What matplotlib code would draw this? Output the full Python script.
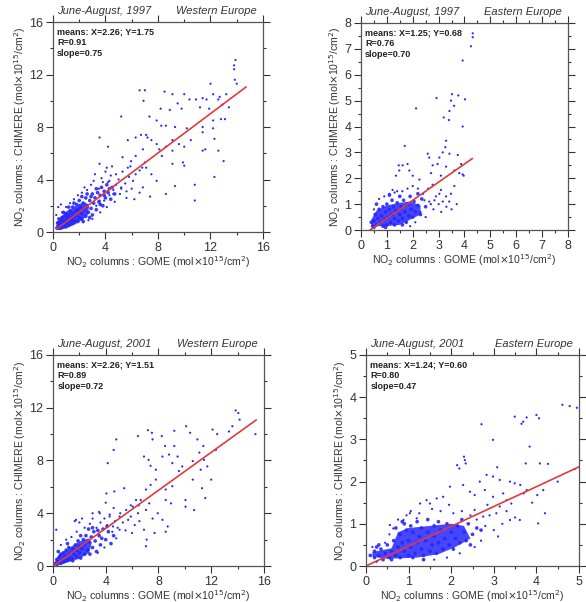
import numpy as np
import matplotlib
matplotlib.use("Agg")
import matplotlib.pyplot as plt
from matplotlib.ticker import MultipleLocator

plt.rcParams['font.family'] = ['Liberation Sans', 'DejaVu Sans']

# ---- data ----------------------------------------------------------------
periods = ["June-August, 1997", "June-August, 1997", "June-August, 2001", "June-August, 2001"]
regions = ["Western Europe", "Eastern Europe", "Western Europe", "Eastern Europe"]
means_x = [2.26, 1.25, 2.26, 1.24]
means_y = [1.75, 0.68, 1.51, 0.60]
r_values = [0.91, 0.76, 0.89, 0.80]
slopes = [0.75, 0.70, 0.72, 0.47]
intercepts = [0.02, -0.25, -0.02, 0.0]
fit_ranges = [(0.3, 14.7), (0.35, 4.3), (0.1, 15.4), (0.0, 5.0)]
axis_max = [16, 8, 16, 5]
major_step = [4, 1, 4, 1]
minor_step = [2, 0.5, 2, 0.5]

# outline of the saturated (solid blue) part of each cloud
we97_outline = [(0.25, 0.15), (0.3, 0.7), (0.6, 1.15), (1.0, 1.55), (1.5, 1.85), (2.0, 2.15), (2.5, 2.25),
                (2.75, 1.95), (2.65, 1.3), (2.2, 0.9), (1.6, 0.55), (1.0, 0.3), (0.6, 0.15)]
ee97_outline = [(0.4, 0.15), (0.4, 0.4), (0.6, 0.75), (1.0, 0.95), (1.5, 1.05), (1.9, 1.1), (2.3, 0.95),
                (2.3, 0.6), (1.9, 0.4), (1.5, 0.2), (1.0, 0.15)]
we01_outline = [(0.15, 0.1), (0.2, 0.5), (0.5, 0.9), (1.2, 1.35), (2.0, 1.85), (2.7, 2.1), (2.95, 1.8),
                (2.75, 1.0), (2.0, 0.55), (1.2, 0.3), (0.5, 0.1)]
ee01_outline = [(0.15, 0.22), (0.15, 0.33), (0.6, 0.42), (0.75, 0.8), (1.0, 0.9), (1.5, 0.95), (2.0, 1.0),
                (2.3, 0.95), (2.45, 0.65), (2.1, 0.45), (1.7, 0.28), (1.2, 0.2), (0.5, 0.17)]

# dense core of each cloud
we97_core = [(0.3, 0.3), (0.4, 0.5), (0.5, 0.3), (0.5, 0.7), (0.6, 0.4), (0.6, 0.9), (0.7, 0.6), (0.7, 1.1),
             (0.8, 0.4), (0.8, 0.8), (0.9, 0.6), (0.9, 1.2), (1.0, 0.4), (1.0, 0.9), (1.0, 1.4), (1.1, 0.7),
             (1.1, 1.1), (1.2, 0.5), (1.2, 1.3), (1.3, 0.8), (1.3, 1.6), (1.4, 0.6), (1.4, 1.1), (1.5, 0.9),
             (1.5, 1.4), (1.5, 1.9), (1.6, 0.7), (1.6, 1.2), (1.7, 1.6), (1.7, 0.9), (1.8, 1.3), (1.8, 2.1),
             (1.9, 0.8), (1.9, 1.7), (2.0, 1.1), (2.0, 1.5), (2.0, 2.4), (2.1, 1.9), (2.2, 1.0), (2.2, 1.4),
             (2.3, 2.2), (2.4, 1.7), (2.5, 1.2), (2.5, 2.6), (2.6, 2.0), (2.7, 1.5), (2.8, 2.4), (2.9, 1.8),
             (3.0, 2.9), (3.0, 1.3), (3.1, 2.2), (3.2, 2.6), (3.3, 1.7), (3.4, 3.0), (3.5, 2.3), (3.6, 2.8),
             (3.7, 3.4), (3.8, 2.0), (3.9, 3.1), (4.0, 2.6), (4.1, 3.6), (4.2, 3.0), (4.4, 2.5), (4.5, 3.4),
             (0.45, 1.0), (0.35, 0.7), (1.2, 1.9), (0.8, 1.5), (2.3, 0.8), (2.8, 1.1), (2.6, 2.9),
             (2.9, 2.7), (3.3, 3.3), (3.6, 2.1), (3.9, 2.8), (4.3, 3.3), (4.7, 2.9), (2.2, 2.7), (1.6, 2.2)]
ee97_core = [(0.45, 0.15), (0.5, 0.35), (0.55, 0.6), (0.6, 0.2), (0.65, 0.45), (0.7, 0.8), (0.75, 0.3),
             (0.8, 0.55), (0.85, 0.15), (0.85, 0.9), (0.9, 0.4), (0.95, 0.7), (1.0, 0.2), (1.0, 1.0),
             (1.05, 0.5), (1.1, 0.8), (1.15, 0.3), (1.2, 0.6), (1.2, 1.15), (1.25, 0.9), (1.3, 0.2),
             (1.3, 0.45), (1.35, 0.75), (1.4, 1.05), (1.45, 0.35), (1.5, 0.6), (1.5, 1.3), (1.55, 0.9),
             (1.6, 0.45), (1.65, 1.15), (1.7, 0.7), (1.75, 0.3), (1.8, 1.0), (1.85, 0.55), (1.9, 1.3),
             (1.95, 0.8), (2.0, 0.5), (2.05, 1.1), (2.1, 0.7), (2.2, 0.95), (2.3, 0.6), (2.35, 1.2),
             (2.5, 0.9), (0.4, 0.3), (0.6, 1.0), (1.1, 1.35), (0.95, 0.1), (1.6, 0.2), (0.5, 0.1), (2.2, 1.4)]
we01_core = [(0.2, 0.2), (0.3, 0.5), (0.4, 0.3), (0.5, 0.7), (0.6, 0.2), (0.6, 0.9), (0.7, 0.5), (0.8, 1.0),
             (0.8, 0.3), (0.9, 0.7), (1.0, 0.4), (1.0, 1.2), (1.1, 0.8), (1.2, 0.5), (1.2, 1.4), (1.3, 1.0),
             (1.4, 0.6), (1.5, 1.3), (1.5, 0.4), (1.6, 0.9), (1.7, 1.6), (1.8, 0.7), (1.8, 1.2), (1.9, 1.9),
             (2.0, 1.0), (2.0, 1.5), (2.1, 0.6), (2.2, 1.3), (2.3, 2.0), (2.4, 0.9), (2.4, 1.6), (2.5, 2.3),
             (2.6, 1.2), (2.7, 1.8), (2.8, 0.9), (2.9, 2.2), (3.0, 1.4), (3.1, 2.6), (3.2, 1.9), (3.3, 1.1),
             (3.5, 2.3), (3.6, 1.6), (3.8, 2.8), (4.0, 2.0), (4.2, 2.6), (4.4, 1.7), (0.4, 1.1), (0.3, 0.1),
             (1.1, 1.7), (2.7, 2.8), (3.4, 2.7), (3.7, 2.1), (4.1, 3.0), (4.6, 2.3), (3.0, 2.9), (2.1, 2.3)]
ee01_core = [(0.1, 0.25), (0.2, 0.2), (0.2, 0.35), (0.3, 0.25), (0.35, 0.4), (0.4, 0.15), (0.45, 0.3),
             (0.5, 0.5), (0.55, 0.2), (0.6, 0.35), (0.65, 0.6), (0.7, 0.25), (0.75, 0.45), (0.8, 0.75),
             (0.8, 0.2), (0.85, 0.55), (0.9, 0.35), (0.95, 0.85), (1.0, 0.25), (1.0, 0.6), (1.05, 0.45),
             (1.1, 0.8), (1.15, 0.3), (1.2, 0.55), (1.25, 0.7), (1.3, 0.4), (1.3, 0.9), (1.35, 0.25),
             (1.4, 0.6), (1.45, 0.8), (1.5, 0.35), (1.55, 0.5), (1.6, 0.95), (1.6, 0.7), (1.65, 0.3),
             (1.7, 0.55), (1.75, 0.85), (1.8, 0.4), (1.85, 0.65), (1.9, 1.0), (1.95, 0.5), (2.0, 0.8),
             (2.05, 0.4), (2.1, 0.65), (2.15, 0.95), (2.2, 0.55), (2.3, 0.8), (2.35, 0.6), (2.4, 1.0),
             (2.5, 0.75), (0.7, 0.9), (0.9, 1.0), (1.2, 1.05), (0.6, 0.15), (1.1, 0.2), (2.6, 0.9),
             (0.3, 0.5), (1.45, 1.1), (0.85, 1.05), (1.05, 0.95), (1.7, 1.05), (2.25, 1.1), (2.45, 0.5),
             (1.35, 0.15), (0.25, 0.45), (2.7, 0.85)]

# sparser points around and beyond the core
we97_pts = [(13.9, 13.1), (13.8, 12.7), (13.8, 12.4), (13.85, 11.6), (14.0, 11.3), (12.0, 11.3), (6.6, 10.8),
            (7.0, 10.8), (6.9, 10.0), (8.5, 10.7), (9.1, 10.5), (10.0, 10.5), (10.9, 10.1), (10.4, 10.1),
            (11.4, 10.2), (12.2, 10.5), (12.7, 10.3), (13.2, 10.5), (8.2, 9.4), (8.9, 9.3), (9.5, 9.8),
            (9.8, 9.4), (11.2, 9.5), (11.7, 10.1), (11.9, 9.4), (12.6, 10.1), (12.9, 9.7), (13.4, 9.5),
            (5.2, 8.8), (7.35, 8.8), (7.9, 8.5), (8.6, 8.1), (8.25, 8.1), (9.3, 8.0), (10.2, 7.9), (11.4, 8.0),
            (12.2, 7.9), (12.8, 8.6), (13.1, 8.6), (12.2, 8.5), (11.4, 7.6), (12.3, 7.1), (3.55, 7.2),
            (4.2, 6.5), (5.7, 7.0), (6.3, 7.2), (6.7, 7.4), (7.1, 7.4), (7.2, 7.2), (7.5, 7.0), (6.85, 6.3),
            (7.9, 6.7), (8.1, 6.3), (8.6, 6.5), (9.1, 7.0), (9.6, 6.7), (10.0, 6.5), (10.5, 7.0), (9.1, 6.2),
            (8.3, 5.8), (9.9, 5.3), (10.0, 5.05), (9.1, 5.2), (7.0, 5.3), (12.6, 6.2), (13.0, 5.4), (11.6, 6.3),
            (10.8, 3.6), (9.3, 3.5), (8.6, 2.9), (10.8, 2.4), (12.3, 4.2), (11.4, 6.2), (5.3, 5.7), (5.95, 5.4),
            (6.3, 5.8), (5.7, 4.9), (6.6, 4.7), (7.1, 4.9), (7.5, 4.4), (7.9, 3.9), (6.1, 3.9), (6.85, 3.4),
            (5.6, 3.1), (4.8, 4.4), (4.3, 3.9), (5.2, 3.4), (4.1, 4.9), (3.55, 5.2), (4.6, 2.9), (3.55, 2.4),
            (6.2, 2.5), (7.4, 2.7), (0.25, 1.3), (0.4, 1.9), (0.6, 2.1), (2.6, 3.2), (2.9, 3.6), (3.1, 3.9),
            (3.3, 2.0), (3.5, 3.3), (3.7, 4.1), (3.9, 2.4), (4.0, 4.6), (4.2, 3.8), (4.4, 4.3), (4.6, 3.2),
            (4.8, 3.6), (5.0, 4.0), (5.1, 2.9), (5.3, 4.6), (5.5, 3.7), (5.8, 4.2), (4.7, 2.3), (4.1, 1.9),
            (3.6, 1.5), (3.0, 1.0), (2.7, 0.9), (5.6, 2.6), (6.0, 3.3), (6.3, 4.4), (6.6, 3.0), (6.8, 4.9),
            (5.9, 5.0), (4.5, 5.0), (3.2, 4.4), (2.4, 3.4), (2.2, 3.0), (1.9, 2.8), (1.6, 2.5), (1.3, 2.2),
            (1.0, 1.9), (0.7, 1.5), (3.8, 3.8), (4.3, 2.8), (5.2, 3.3)]
ee97_pts = [(4.32, 7.6), (4.32, 7.45), (4.25, 7.1), (3.93, 6.55), (2.92, 5.1), (3.52, 5.25), (3.76, 5.2),
            (4.02, 5.05), (2.13, 4.7), (3.48, 5.0), (3.42, 4.6), (3.6, 4.8), (3.2, 4.35), (3.4, 4.25),
            (3.93, 4.0), (1.69, 3.25), (3.29, 3.45), (3.26, 3.2), (3.16, 3.0), (3.42, 2.95), (3.74, 2.9),
            (2.58, 2.95), (2.64, 2.8), (3.03, 2.8), (2.96, 2.55), (2.77, 2.5), (3.87, 2.55), (3.97, 2.1),
            (3.93, 2.15), (3.61, 2.3), (3.29, 2.45), (2.71, 2.2), (3.09, 2.1), (1.46, 2.5), (1.61, 2.5),
            (1.8, 2.55), (1.48, 2.3), (1.35, 2.1), (1.87, 2.3), (2.0, 2.1), (2.26, 1.95), (1.22, 1.55),
            (2.77, 1.75), (3.09, 1.55), (3.29, 1.3), (3.48, 1.4), (3.61, 1.7), (3.03, 1.4), (2.84, 1.15),
            (3.16, 1.1), (3.41, 1.1), (3.8, 2.2), (2.45, 1.15), (2.64, 1.1), (2.3, 0.7), (2.4, 1.4),
            (2.5, 0.5), (2.6, 1.6), (2.7, 1.0), (2.8, 0.8), (2.9, 1.3), (3.0, 1.0), (3.1, 0.7), (2.2, 1.6),
            (2.0, 1.7), (1.8, 1.6), (1.6, 1.5), (1.4, 1.5), (1.3, 1.45), (1.1, 1.4), (0.9, 1.3), (0.7, 1.2),
            (0.5, 0.8), (3.3, 0.9), (3.5, 0.8), (3.7, 1.0), (2.1, 0.3), (1.9, 0.15)]
we01_pts = [(13.85, 11.8), (14.05, 11.6), (14.15, 11.1), (7.2, 10.3), (7.5, 10.1), (7.55, 9.6), (6.45, 9.85),
            (4.8, 9.6), (4.6, 8.8), (4.15, 7.8), (8.25, 9.85), (8.5, 9.1), (9.2, 10.25), (9.2, 9.1),
            (10.1, 10.6), (10.4, 10.1), (10.95, 9.6), (11.4, 9.1), (12.1, 10.35), (12.45, 10.0), (13.35, 10.2),
            (13.6, 10.6), (15.35, 10.0), (6.9, 8.3), (7.25, 8.05), (7.4, 7.6), (7.8, 7.3), (8.3, 8.3),
            (8.8, 8.45), (9.05, 7.8), (9.45, 8.3), (9.8, 7.55), (10.6, 7.95), (11.1, 8.6), (11.45, 8.05),
            (11.7, 7.55), (12.35, 8.8), (11.2, 7.3), (12.0, 6.55), (11.3, 5.9), (11.55, 5.15), (10.6, 6.55),
            (9.55, 7.2), (9.05, 6.05), (7.8, 6.55), (7.4, 6.15), (7.05, 5.8), (6.65, 5.0), (7.3, 4.75),
            (8.55, 5.8), (8.55, 5.0), (8.95, 4.75), (10.05, 4.5), (10.7, 4.25), (7.95, 4.0), (7.55, 3.6),
            (8.3, 3.5), (8.7, 3.0), (8.55, 2.6), (7.1, 2.0), (7.05, 1.5), (7.7, 2.5), (10.05, 5.0),
            (4.05, 5.5), (4.65, 5.65), (5.4, 5.9), (6.05, 4.5), (6.3, 5.0), (5.55, 4.25), (5.9, 3.75),
            (6.45, 4.0), (5.05, 3.75), (7.05, 4.25), (6.55, 3.4), (6.9, 2.75), (6.0, 2.5), (5.05, 2.75),
            (4.55, 3.0), (4.3, 3.75), (3.55, 4.0), (3.0, 4.0), (1.75, 3.5), (1.65, 3.4), (0.25, 2.75),
            (2.0, 3.3), (2.4, 2.9), (2.8, 3.2), (3.0, 3.6), (3.3, 2.9), (3.6, 3.3), (3.9, 3.6), (4.1, 3.1),
            (4.3, 3.9), (4.5, 2.6), (4.7, 3.4), (4.9, 2.9), (5.1, 4.0), (5.3, 3.3), (5.5, 2.7), (5.7, 3.5),
            (4.6, 4.4), (3.5, 4.1), (2.2, 3.6), (1.8, 2.6), (1.4, 2.2), (1.0, 2.0), (0.6, 1.6), (3.9, 1.4),
            (4.8, 2.1), (5.9, 4.6), (6.2, 3.1), (6.5, 4.6), (4.0, 4.8), (3.4, 1.0)]
ee01_pts = [(4.61, 3.82), (4.78, 3.79), (4.95, 3.75), (3.49, 3.54), (3.69, 3.42), (3.77, 3.52), (4.0, 3.58),
            (4.06, 3.5), (3.65, 3.37), (2.71, 3.36), (2.98, 2.99), (3.84, 2.83), (2.3, 2.59), (2.32, 2.51),
            (2.34, 2.43), (2.14, 2.39), (2.19, 2.31), (3.75, 2.43), (4.08, 2.43), (4.27, 2.42), (3.08, 2.34),
            (2.83, 2.16), (2.98, 2.12), (2.67, 2.0), (3.14, 2.04), (3.38, 2.0), (3.49, 1.96), (3.62, 1.92),
            (3.77, 1.8), (4.16, 1.8), (3.7, 1.72), (4.02, 1.68), (1.97, 1.88), (2.28, 1.92), (2.44, 1.76),
            (2.55, 1.68), (2.79, 1.8), (2.98, 1.64), (3.22, 1.72), (3.3, 1.56), (3.41, 1.48), (3.14, 1.41),
            (3.06, 1.25), (3.38, 1.09), (3.61, 1.09), (4.04, 1.01), (2.75, 1.17), (2.55, 1.33), (1.42, 1.56),
            (1.5, 1.48), (1.66, 1.6), (1.81, 1.64), (1.27, 1.48), (1.03, 1.25), (1.19, 1.13), (0.88, 1.09),
            (0.56, 0.97), (0.64, 0.89), (0.15, 0.45), (0.25, 0.1), (0.45, 0.55), (0.55, 0.75), (0.75, 1.1),
            (0.95, 1.2), (1.05, 1.3), (1.25, 1.25), (1.55, 1.35), (1.75, 1.3), (1.95, 1.45), (2.05, 1.25),
            (2.25, 1.3), (2.45, 1.2), (2.6, 1.1), (2.7, 0.6), (2.8, 0.95), (2.9, 1.2), (3.0, 0.85),
            (3.2, 1.0), (3.1, 0.7), (2.55, 0.45), (2.2, 0.3), (1.9, 0.2), (1.6, 0.15), (2.85, 1.45),
            (3.3, 1.3), (3.5, 1.15), (3.9, 1.5), (4.2, 1.25), (4.5, 2.0), (4.9, 2.3)]

outlines = [we97_outline, ee97_outline, we01_outline, ee01_outline]
cores = [we97_core, ee97_core, we01_core, ee01_core]
points = [we97_pts, ee97_pts, we01_pts, ee01_pts]

# ---- layout ---------------------------------------------------------------
fig = plt.figure(figsize=(5.86, 6.02), dpi=100)
rects = [[0.0904, 0.6146, 0.3584, 0.3488],
         [0.616, 0.6179, 0.3532, 0.3439],
         [0.0904, 0.0598, 0.3601, 0.3505],
         [0.6246, 0.0598, 0.3635, 0.3505]]

grey = '#333333'
dot_color = '#2626ff'

for i in range(4):
    ax = fig.add_axes(rects[i])
    outline = np.array(outlines[i])
    core = np.array(cores[i])
    pts = np.array(points[i])
    ax.fill(outline[:, 0], outline[:, 1], color=dot_color, lw=0, alpha=0.85)
    ax.scatter(core[:, 0], core[:, 1], s=7, color=dot_color, edgecolors='none', alpha=0.9)
    ax.scatter(pts[:, 0], pts[:, 1], s=2.5, color=dot_color, edgecolors='none')

    # regression line
    x0, x1 = fit_ranges[i]
    xs = np.array([x0, x1])
    ax.plot(xs, intercepts[i] + slopes[i] * xs, color='#e03a3a', lw=1.2)

    m = axis_max[i]
    ax.set_xlim(0, m)
    ax.set_ylim(0, m)
    ax.xaxis.set_major_locator(MultipleLocator(major_step[i]))
    ax.yaxis.set_major_locator(MultipleLocator(major_step[i]))
    ax.xaxis.set_minor_locator(MultipleLocator(minor_step[i]))
    ax.yaxis.set_minor_locator(MultipleLocator(minor_step[i]))
    ax.tick_params(which='both', direction='out', top=True, right=True,
                   labeltop=False, labelright=False, colors=grey, labelsize=9)
    ax.tick_params(which='major', length=5, width=0.8, pad=2)
    ax.tick_params(which='minor', length=2.5, width=0.8)
    for sp in ax.spines.values():
        sp.set_color('#555555')
        sp.set_linewidth(0.9)

    ax.set_xlabel(r"NO$_2$ columns : GOME (mol$\times$10$^{15}$/cm$^2$)", fontsize=7.6,
                  color=grey, labelpad=0)
    ax.set_ylabel(r"NO$_2$ columns : CHIMERE (mol$\times$10$^{15}$/cm$^2$)", fontsize=7.6,
                  color=grey, labelpad=1)

    ax.text(0.02, 1.03, periods[i], transform=ax.transAxes, fontsize=8, style='italic',
            color=grey, ha='left', va='bottom')
    ax.text(0.97, 1.03, regions[i], transform=ax.transAxes, fontsize=8, style='italic',
            color=grey, ha='right', va='bottom')

    stats = "means: X=%.2f; Y=%.2f\nR=%.2f\nslope=%.2f" % (means_x[i], means_y[i], r_values[i], slopes[i])
    ax.text(0.02, 0.975, stats, transform=ax.transAxes, fontsize=6.5, fontweight='bold',
            color='#222222', ha='left', va='top', linespacing=1.3)

plt.savefig("out.png", dpi=100)
